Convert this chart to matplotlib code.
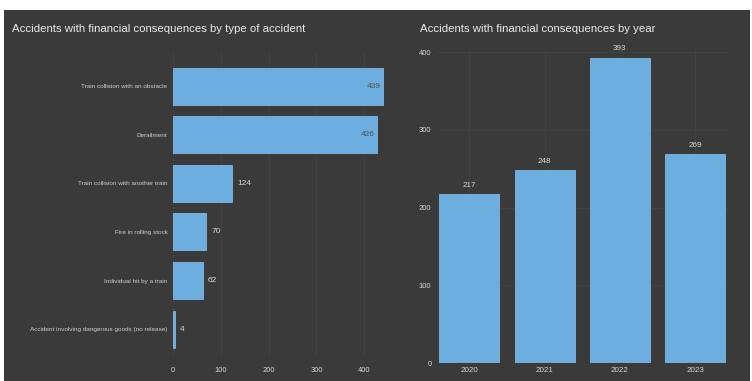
import matplotlib.pyplot as plt
from matplotlib.patches import Rectangle

# data
types = [
    "Train collision with an obstacle",
    "Derailment",
    "Train collision with another train",
    "Fire in rolling stock",
    "Individual hit by a train",
    "Accident involving dangerous goods (no release)",
]
type_counts = [439, 426, 124, 70, 62, 4]

years = ["2020", "2021", "2022", "2023"]
year_counts = [217, 248, 393, 269]

BG = "#3a3a3a"
BAR = "#6caee0"
GRID = "#434343"
TXT = "#d8d8d8"

plt.rcParams["font.family"] = ["Liberation Sans", "DejaVu Sans"]

fig = plt.figure(figsize=(7.52, 3.81), dpi=100)
fig.patch.set_facecolor("white")
fig.add_artist(Rectangle((4 / 752, 0), 746 / 752, 371 / 381,
                         transform=fig.transFigure, facecolor=BG, edgecolor="none", zorder=-10))

W, H = 752.0, 381.0


def axes_px(left, top, right, bottom):
    return fig.add_axes([left / W, 1 - bottom / H, (right - left) / W, (bottom - top) / H])


def style(ax, axis="both"):
    ax.set_facecolor(BG)
    for s in ax.spines.values():
        s.set_visible(False)
    ax.tick_params(length=0, colors=TXT)
    ax.set_axisbelow(True)
    ax.grid(True, axis=axis, color=GRID, linewidth=0.7)


# left panel: by type
ax1 = axes_px(173, 52, 391, 356)
style(ax1, "x")
pos = list(range(len(types)))
ax1.barh(pos, type_counts, height=0.76, color=BAR, edgecolor="#8cc4ee", linewidth=0.5)
ax1.set_yticks(pos)
ax1.set_yticklabels(types, fontsize=4.6, color="#cfcfcf")
ax1.tick_params(axis="y", pad=4)
ax1.set_ylim(len(types) - 0.45, -0.7)
ax1.set_xlim(0, 456)
ax1.set_xticks([0, 100, 200, 300, 400])
ax1.tick_params(axis="x", labelsize=5.5, pad=8)
for p, v in zip(pos, type_counts):
    if v > 300:
        ax1.text(v - 4, p, str(v), ha="right", va="center", fontsize=6, color="#505050")
    else:
        ax1.text(v + 11, p, str(v), ha="left", va="center", fontsize=6, color=TXT)
fig.text(12 / W, 1 - 29 / H, "Accidents with financial consequences by type of accident",
         fontsize=8.2, color="#ececec", va="center", ha="left")

# right panel: by year
ax2 = axes_px(437, 50, 729, 363)
style(ax2)
xpos = list(range(len(years)))
ax2.bar(xpos, year_counts, width=0.8, color=BAR, edgecolor="#8cc4ee", linewidth=0.5)
ax2.set_xticks(xpos)
ax2.set_xticklabels(years, fontsize=5.8)
ax2.set_xlim(-0.43, 3.45)
ax2.set_ylim(0, 403)
ax2.set_yticks([0, 100, 200, 300, 400])
ax2.tick_params(axis="y", labelsize=5.5, pad=4)
ax2.tick_params(axis="x", pad=3)
for p, v in zip(xpos, year_counts):
    ax2.text(p, v + 7, str(v), ha="center", va="bottom", fontsize=5.8, color=TXT)
fig.text(420 / W, 1 - 29 / H, "Accidents with financial consequences by year",
         fontsize=8.2, color="#ececec", va="center", ha="left")

fig.savefig("out.png", dpi=100, facecolor=fig.get_facecolor())
